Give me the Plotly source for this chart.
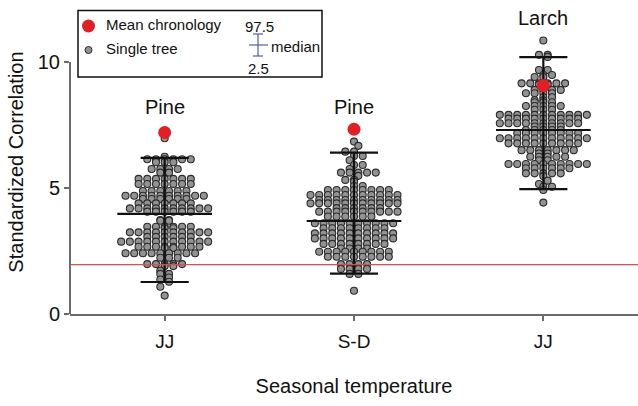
import plotly.graph_objects as go

# ---------------- data ----------------
categories = ["JJ", "S-D", "JJ"]
species = ["Pine", "Pine", "Larch"]

pine_jj = [
    6.97,
    6.24, 6.14, 6.14, 6.14, 6.14, 6.14, 6.14,
    6.02, 6.02, 6.02,
    5.75, 5.75, 5.75, 5.75, 5.61, 5.61,
    5.36, 5.36, 5.36, 5.36, 5.36, 5.36, 5.36,
    5.16, 5.16, 5.16, 5.16, 5.16, 5.16, 5.16,
    4.88, 4.88, 4.88, 4.88, 4.88, 4.88,
    4.69, 4.69, 4.69, 4.69, 4.69, 4.69, 4.69, 4.69, 4.69, 4.69,
    4.56, 4.56, 4.56, 4.56, 4.56, 4.56,
    4.39, 4.39, 4.39, 4.39, 4.39, 4.39, 4.39,
    4.19, 4.19, 4.19, 4.19, 4.19, 4.19, 4.19, 4.19, 4.19, 4.19,
    4.06, 4.06, 4.06, 4.06, 4.06, 4.06,
    3.73, 3.73, 3.70, 3.70,
    3.46, 3.46, 3.46, 3.46, 3.46, 3.46, 3.40, 3.40,
    3.24, 3.24, 3.24, 3.24, 3.24, 3.24, 3.24, 3.24, 3.24, 3.24,
    3.06, 3.06, 3.06, 3.06, 3.06, 3.06,
    2.87, 2.87, 2.87, 2.87, 2.87, 2.87, 2.87, 2.87, 2.87, 2.87, 2.87,
    2.67, 2.67, 2.67, 2.67, 2.67, 2.67, 2.67, 2.67, 2.62, 2.62,
    2.41, 2.41, 2.41, 2.41, 2.41, 2.41, 2.41, 2.41, 2.41,
    2.23, 2.23, 2.23,
    1.98, 1.98, 1.98, 1.98, 1.98, 1.90, 1.90,
    1.72, 1.59, 1.59, 1.45, 1.37, 1.28, 1.08, 0.73,
]

pine_sd = [
    6.84, 6.67, 6.44, 6.44, 6.27, 6.27, 6.10, 5.91, 5.91, 5.75,
    5.61, 5.61, 5.61, 5.61, 5.61, 5.48, 5.32, 5.32, 5.25, 5.08, 5.08,
    4.92, 4.92, 4.92, 4.92, 4.92, 4.92, 4.92, 4.92,
    4.72, 4.72, 4.72, 4.72, 4.72, 4.72, 4.72, 4.72, 4.72, 4.72, 4.72,
    4.52, 4.52, 4.52, 4.52, 4.52, 4.52, 4.52, 4.52, 4.52, 4.52,
    4.39, 4.39, 4.39, 4.39, 4.39, 4.39, 4.39, 4.39, 4.39, 4.39, 4.39,
    4.20, 4.20, 4.20, 4.20, 4.20, 4.20,
    4.06, 4.06, 4.06, 4.06, 4.06, 4.06, 4.06, 4.06, 4.06, 4.06,
    3.87, 3.87, 3.87, 3.87, 3.87, 3.87,
    3.60, 3.60, 3.60, 3.60, 3.60, 3.60, 3.60, 3.60, 3.60, 3.60,
    3.40, 3.40, 3.40, 3.40, 3.40, 3.40, 3.40, 3.40,
    3.20, 3.20, 3.20, 3.20, 3.20, 3.20, 3.20, 3.20, 3.20, 3.20,
    3.00, 3.00, 3.00, 3.00, 3.00, 3.00, 3.00, 3.00, 3.00, 3.00,
    2.78, 2.78, 2.78, 2.78, 2.78, 2.78, 2.78, 2.78,
    2.60, 2.60, 2.60, 2.60,
    2.47, 2.47, 2.47, 2.47, 2.47, 2.47, 2.47, 2.47, 2.47,
    2.27, 2.27, 2.27, 2.27, 2.27, 2.27, 2.27, 2.27,
    1.98, 1.98, 1.98, 1.98, 1.79, 1.79, 1.79, 1.79,
    1.59, 1.59, 0.92,
]

larch_jj = [
    10.85, 10.28, 10.28, 10.20, 9.68, 9.68, 9.48, 9.48, 9.40, 9.40,
    9.15, 9.15, 9.15, 9.15, 9.15, 9.15, 9.10, 9.10,
    8.89, 8.89, 8.89, 8.89, 8.76, 8.76, 8.76, 8.76,
    8.60, 8.60, 8.48, 8.48, 8.40, 8.40, 8.40,
    8.25, 8.25, 8.25, 8.25, 8.25, 8.10, 8.10, 8.10,
    7.90, 7.90, 7.90, 7.90, 7.90, 7.90, 7.90, 7.90, 7.90, 7.90, 7.90,
    7.75, 7.75, 7.75, 7.75, 7.75, 7.75, 7.75, 7.75, 7.75,
    7.57, 7.57, 7.57, 7.57, 7.57, 7.57, 7.57, 7.57, 7.57, 7.57,
    7.44, 7.44, 7.44, 7.44, 7.30, 7.30, 7.30, 7.30, 7.30,
    7.17, 7.17, 7.17, 7.17, 7.17, 7.17, 7.17, 7.17,
    6.97, 6.97, 6.97, 6.97, 6.97, 6.97, 6.97, 6.97, 6.97, 6.97, 6.97,
    6.77, 6.77, 6.77, 6.77, 6.77, 6.77, 6.77, 6.77, 6.77,
    6.50, 6.50, 6.50, 6.50, 6.50, 6.50, 6.50, 6.37, 6.37,
    6.24, 6.24, 6.24, 6.24, 6.24, 6.10, 6.10,
    5.95, 5.95, 5.95, 5.95, 5.95, 5.95, 5.95, 5.95, 5.95, 5.95,
    5.78, 5.78, 5.78, 5.78, 5.78, 5.78,
    5.58, 5.58, 5.58, 5.58, 5.58, 5.47, 5.29, 5.16, 5.05, 5.05,
    4.92, 4.42,
]

medians = [3.97, 3.69, 7.30]
p97_5 = [6.19, 6.40, 10.19]
p2_5 = [1.27, 1.60, 4.95]
mean_chronology = [7.20, 7.33, 9.06]
threshold = 1.96

groups = [pine_jj, pine_sd, larch_jj]

# ---------------- layout geometry ----------------
W, H = 638, 406
ML, MR, MT, MB = 70, 0, 10, 92
PW, PH = W - ML - MR, H - MT - MB
XR = (-0.5, 2.5)
YR = (0.0, 12.06)
XS = PW / (XR[1] - XR[0])   # px per x unit
YS = PH / (YR[1] - YR[0])   # px per y unit

def px(xp):
    return (xp - ML) / PW

def py(yp):
    return (H - MB - yp) / PH

def dot_rows(vals, d=8.7):
    """Scatter-dot-plot layout: equal values share a centred row; each row is
    shifted by half a step when that reduces overlap with neighbouring rows."""
    counts = {}
    for v in vals:
        counts[v] = counts.get(v, 0) + 1
    placed = []
    rowpos = {}
    for v in sorted(counts, reverse=True):
        n = counts[v]
        y = v * YS
        best = None
        for s in (0.0, d / 2, -d / 2):
            xs = [(k - (n - 1) / 2.0) * d + s for k in range(n)]
            pen = 0.0
            for x in xs:
                for (x0, y0) in placed:
                    dd = (x - x0) ** 2 + (y - y0) ** 2
                    if dd < d * d:
                        pen += d * d - dd
            pen += 0.01 * abs(s)
            if best is None or pen < best[0]:
                best = (pen, xs)
        rowpos[v] = list(best[1])
        placed += [(x, y) for x in best[1]]
    offs = []
    used = {}
    for v in vals:
        k = used.get(v, 0)
        used[v] = k + 1
        offs.append(rowpos[v][k] / XS)
    return offs

fig = go.Figure()

# single trees
for g, vals in enumerate(groups):
    offs = dot_rows(vals)
    fig.add_trace(go.Scatter(
        x=[g + o for o in offs], y=vals, mode="markers",
        marker=dict(size=7, color="#929292", line=dict(color="#2b2b2b", width=1.1)),
        showlegend=False, hoverinfo="y"))

# error bars (2.5 / median / 97.5)
cap = 0.127
mw = 0.25
for g in range(3):
    xs = [g, g, None, g - cap, g + cap, None, g - cap, g + cap, None, g - mw, g + mw]
    ys = [p2_5[g], p97_5[g], None, p97_5[g], p97_5[g], None, p2_5[g], p2_5[g], None,
          medians[g], medians[g]]
    fig.add_trace(go.Scatter(x=xs, y=ys, mode="lines",
                             line=dict(color="#111111", width=2.2),
                             showlegend=False, hoverinfo="skip"))

# mean chronology
fig.add_trace(go.Scatter(x=[0, 1, 2], y=mean_chronology, mode="markers",
                         marker=dict(size=13, color="#e31e24"),
                         showlegend=False))

shapes = []
# threshold line
shapes.append(dict(type="line", xref="paper", yref="y", x0=0, x1=1,
                   y0=threshold, y1=threshold, line=dict(color="#e8474c", width=1.2)))
# y axis line only up to 10
shapes.append(dict(type="line", xref="paper", yref="y", x0=0, x1=0, y0=0, y1=10,
                   line=dict(color="#6b6b6b", width=2)))

# legend box
shapes.append(dict(type="rect", xref="paper", yref="paper",
                   x0=px(78), x1=px(322), y0=py(77), y1=py(10.5),
                   line=dict(color="#111111", width=1.5), fillcolor="white"))
# legend red dot
shapes.append(dict(type="circle", xref="paper", yref="paper",
                   x0=px(82), x1=px(95), y0=py(32.5), y1=py(19.5),
                   line=dict(color="#e31e24", width=0), fillcolor="#e31e24"))
# legend grey dot
shapes.append(dict(type="circle", xref="paper", yref="paper",
                   x0=px(85), x1=px(92), y0=py(53.5), y1=py(46.5),
                   line=dict(color="#2b2b2b", width=1), fillcolor="#929292"))
# legend blue error bar icon
blue = "#4a5fb5"
for (x0, y0, x1, y1) in [(258, 34, 258, 56), (253, 34, 263, 34), (253, 56, 263, 56),
                         (249, 45, 268, 45)]:
    shapes.append(dict(type="line", xref="paper", yref="paper",
                       x0=px(x0), x1=px(x1), y0=py(y0), y1=py(y1),
                       line=dict(color=blue, width=1.2)))

font_family = "Liberation Sans, Arial, sans-serif"
ann = []
def txt(x, y, s, size=15, xanchor="left"):
    ann.append(dict(xref="paper", yref="paper", x=px(x), y=py(y), text=s,
                    showarrow=False, xanchor=xanchor, yanchor="middle",
                    font=dict(size=size, color="#111111", family=font_family)))

txt(104, 25, "Mean chronology")
txt(104, 49, "Single tree")
txt(259, 26, "97.5", xanchor="center")
txt(269, 46, "median")
txt(258, 68, "2.5", xanchor="center")

# species labels
label_y = [8.21, 8.21, 11.75]
for g in range(3):
    ann.append(dict(xref="x", yref="y", x=g, y=label_y[g], text=species[g],
                    showarrow=False, xanchor="center", yanchor="middle",
                    font=dict(size=20, color="#111111", family=font_family)))

fig.update_layout(
    width=W, height=H,
    margin=dict(l=ML, r=MR, t=MT, b=MB),
    plot_bgcolor="white", paper_bgcolor="white",
    shapes=shapes, annotations=ann,
    font=dict(family=font_family, color="#111111"),
    xaxis=dict(range=list(XR), tickvals=[0, 1, 2], ticktext=categories,
               showline=True, linecolor="#6b6b6b", linewidth=2,
               ticks="outside", ticklen=5, tickcolor="#6b6b6b", tickwidth=1.5,
               showgrid=False, zeroline=False, ticklabelstandoff=4,
               tickfont=dict(size=19, color="#111111"),
               title=dict(text="Seasonal temperature", font=dict(size=20, color="#111111"),
                          standoff=28)),
    yaxis=dict(range=list(YR), tickvals=[0, 5, 10], ticktext=["0", "5", "10"],
               showline=False, ticks="outside", ticklen=5, tickcolor="#6b6b6b",
               tickwidth=1.5, showgrid=False, zeroline=False,
               tickfont=dict(size=20, color="#111111"),
               title=dict(text="Standardized Correlation",
                          font=dict(size=20, color="#111111"), standoff=8)),
)

fig.write_html("out.html")
